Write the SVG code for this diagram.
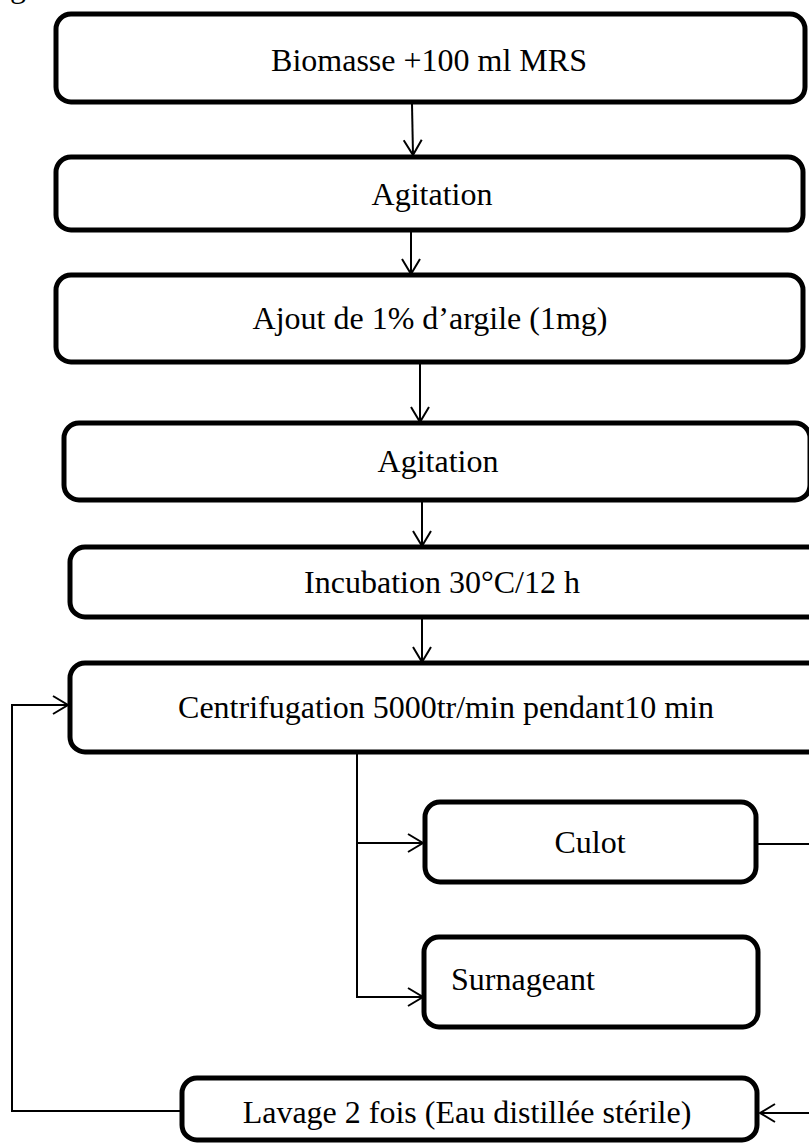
<svg xmlns="http://www.w3.org/2000/svg" width="809" height="1144" viewBox="0 0 809 1144">
<style>
.box{fill:#fff;stroke:#000;stroke-width:5}
.lbl{font-family:"Liberation Serif","Times New Roman",serif;font-size:32px;fill:#000}
.c{text-anchor:middle}
.con{fill:none;stroke:#000;stroke-width:2}
</style>
<defs>
<marker id="arr" markerUnits="userSpaceOnUse" markerWidth="22" markerHeight="22" refX="16" refY="10" orient="auto">
<path d="M1,1 L16,10 L1,19" fill="none" stroke="#000" stroke-width="2"/>
</marker>
</defs>
<rect width="809" height="1144" fill="#fff"/>
<text class="lbl" x="10" y="-3">g</text>
<g id="n1"><rect class="box" x="56" y="14" width="749" height="88" rx="15"/><text class="lbl c" x="429" y="71">Biomasse +100 ml MRS</text></g>
<g id="n2"><rect class="box" x="56" y="157" width="747" height="73" rx="15"/><text class="lbl c" x="432" y="205">Agitation</text></g>
<g id="n3"><rect class="box" x="56" y="275" width="747" height="87" rx="15"/><text class="lbl c" x="430" y="329">Ajout de 1% d’argile (1mg)</text></g>
<g id="n4"><rect class="box" x="64" y="423" width="746" height="77" rx="15"/><text class="lbl c" x="438" y="472">Agitation</text></g>
<g id="n5"><rect class="box" x="70" y="547" width="760" height="70" rx="15"/><text class="lbl c" x="442" y="593">Incubation 30°C/12 h</text></g>
<g id="n6"><rect class="box" x="70" y="663" width="760" height="89" rx="15"/><text class="lbl c" x="446" y="718">Centrifugation 5000tr/min pendant10 min</text></g>
<g id="n7"><rect class="box" x="425" y="802" width="331" height="80" rx="15"/><text class="lbl c" x="590" y="853">Culot</text></g>
<g id="n8"><rect class="box" x="424" y="937" width="334" height="90" rx="15"/><text class="lbl" x="451" y="990">Surnageant</text></g>
<g id="n9"><rect class="box" x="182" y="1078" width="575" height="62" rx="15"/><text class="lbl c" x="467" y="1123">Lavage 2 fois (Eau distillée stérile)</text></g>
<g id="connectors">
<path class="con" d="M412,104 L413,155" marker-end="url(#arr)"/>
<path class="con" d="M411,232 L411,274" marker-end="url(#arr)"/>
<path class="con" d="M420,364 L420,422" marker-end="url(#arr)"/>
<path class="con" d="M422,502 L422,546" marker-end="url(#arr)"/>
<path class="con" d="M422,619 L422,662" marker-end="url(#arr)"/>
<path class="con" d="M357,754 L357,997 L423,997" marker-end="url(#arr)"/>
<path class="con" d="M357,843 L423,843" marker-end="url(#arr)"/>
<path class="con" d="M758,844 L830,844 L830,1113 L760,1113" marker-end="url(#arr)"/>
<path class="con" d="M182,1111 L12,1111 L12,705 L68,705" marker-end="url(#arr)"/>
</g>
</svg>
